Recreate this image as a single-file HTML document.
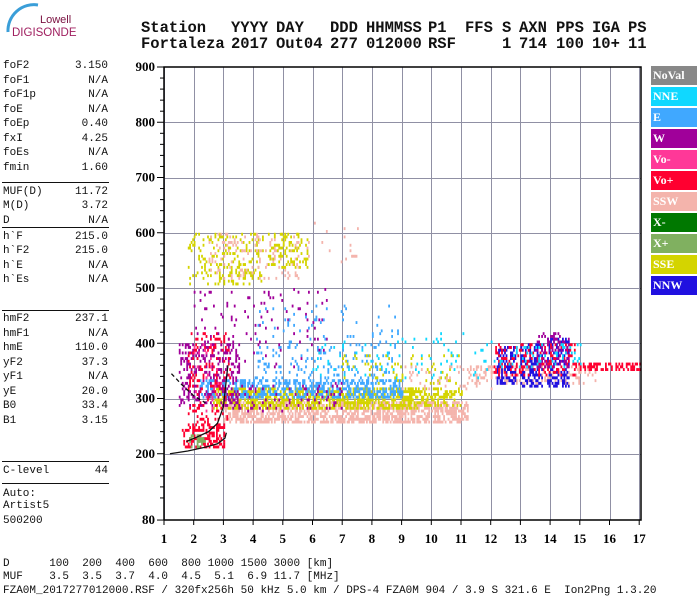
<!DOCTYPE html>
<html><head><meta charset="utf-8"><style>
body{margin:0;background:#fff;width:700px;height:600px;overflow:hidden;position:relative;font-family:"Liberation Mono",monospace}
.t{position:absolute;white-space:pre}
.hd{font:bold 15.5px "Liberation Mono",monospace;color:#111}
.lp{font:11px "Liberation Mono",monospace;color:#111}
.bt{font:11px "Liberation Mono",monospace;color:#111}
.sep{position:absolute;left:2px;width:107px;height:1px;background:#111}
.lg{position:absolute;left:651px;width:46px;height:19px;color:#fff;font:bold 12px "Liberation Serif",serif;line-height:19px;padding-left:2px;box-sizing:border-box}
.gv{position:absolute;top:67px;height:453px;width:1px;background:#9090a4}
.gh{position:absolute;left:164px;width:477px;height:1px;background:#9090a4}
</style></head><body>
<svg style="position:absolute;left:0;top:0" width="80" height="40"><path d="M8 32 A 26 26 0 0 1 38 5" stroke="#3a9ed8" stroke-width="3" fill="none"/><text x="40" y="23" font-family="Liberation Sans,sans-serif" font-size="11" fill="#7a1040">Lowell</text><text x="12" y="36" font-family="Liberation Sans,sans-serif" font-size="11.5" fill="#a02060">DIGISONDE</text></svg>
<div>
<div class="t hd" style="left:141px;top:19px">Station</div><div class="t hd" style="left:231px;top:19px">YYYY</div><div class="t hd" style="left:276px;top:19px">DAY</div><div class="t hd" style="left:330px;top:19px">DDD</div><div class="t hd" style="left:366px;top:19px">HHMMSS</div><div class="t hd" style="left:428px;top:19px">P1</div><div class="t hd" style="left:465px;top:19px">FFS</div><div class="t hd" style="left:502px;top:19px">S</div><div class="t hd" style="left:519px;top:19px">AXN</div><div class="t hd" style="left:556px;top:19px">PPS</div><div class="t hd" style="left:592px;top:19px">IGA</div><div class="t hd" style="left:628px;top:19px">PS</div>
<div class="t hd" style="left:141px;top:35px">Fortaleza</div><div class="t hd" style="left:231px;top:35px">2017</div><div class="t hd" style="left:276px;top:35px">Out04</div><div class="t hd" style="left:330px;top:35px">277</div><div class="t hd" style="left:366px;top:35px">012000</div><div class="t hd" style="left:428px;top:35px">RSF</div><div class="t hd" style="left:502px;top:35px">1</div><div class="t hd" style="left:519px;top:35px">714</div><div class="t hd" style="left:556px;top:35px">100</div><div class="t hd" style="left:592px;top:35px">10+</div><div class="t hd" style="left:628px;top:35px">11</div>
</div>
<div id="panel"></div>
<div id="grid"></div>
<div>
<div class="lg" style="top:66px;background:#888">NoVal</div>
<div class="lg" style="top:87px;background:#10d8ff">NNE</div>
<div class="lg" style="top:108px;background:#40a8ff">E</div>
<div class="lg" style="top:129px;background:#a0009a">W</div>
<div class="lg" style="top:150px;background:#ff3898">Vo-</div>
<div class="lg" style="top:171px;background:#ff0030">Vo+</div>
<div class="lg" style="top:192px;background:#f4b4ac">SSW</div>
<div class="lg" style="top:213px;background:#007800">X-</div>
<div class="lg" style="top:234px;background:#80b060">X+</div>
<div class="lg" style="top:255px;background:#d4d400">SSE</div>
<div class="lg" style="top:276px;background:#2010e0">NNW</div>
</div>
<div>
<div class="t bt" style="left:3px;top:558px">D      100  200  400  600  800 1000 1500 3000 [km]</div>
<div class="t bt" style="left:3px;top:571px">MUF    3.5  3.5  3.7  4.0  4.5  5.1  6.9 11.7 [MHz]</div>
<div class="t bt" style="left:3px;top:585px">FZA0M_2017277012000.RSF / 320fx256h 50 kHz 5.0 km / DPS-4 FZA0M 904 / 3.9 S 321.6 E  Ion2Png 1.3.20</div>
</div>
<svg id="chart" style="position:absolute;left:0;top:0" width="700" height="600"></svg>
<script>
const panelLabels=["foF2","foF1","foF1p","foE","foEp","fxI","foEs","fmin","MUF(D)","M(D)","D","h`F","h`F2","h`E","h`Es","hmF2","hmF1","hmE","yF2","yF1","yE","B0","B1","C-level","Auto:","Artist5","500200"];
const panelValues=["3.150","N/A","N/A","N/A","0.40","4.25","N/A","1.60","11.72","3.72","N/A","215.0","215.0","N/A","N/A","237.1","N/A","110.0","37.3","N/A","20.0","33.4","3.15","44","","",""];
const panelY=[67,82,96,111,125,140,154,169,193,207,222,238,252,267,281,320,335,349,364,378,393,407,422,472,495,507,522];
const sepY=[182,227,310,461,483];
(function(){const p=document.getElementById('panel');
panelLabels.forEach((l,i)=>{const a=document.createElement('div');a.className='t lp';a.style.left='3px';a.style.top=(panelY[i]-7)+'px';a.textContent=l;


p.appendChild(a);
if(panelValues[i]){const b=document.createElement('div');b.className='t lp';b.style.right=(700-108)+'px';b.style.top=(panelY[i]-7)+'px';b.textContent=panelValues[i];


p.appendChild(b);}});
sepY.forEach(y=>{const s=document.createElement('div');s.className='sep';s.style.top=y+'px';


p.appendChild(s);});})();

const xTicks=[1,2,3,4,5,6,7,8,9,10,11,12,13,14,15,16,17];
const yTicks=[900,800,700,600,500,400,300,200,80];
const colors={pink:"#f4b4ac",yellow:"#d4d400",blue:"#40a8ff",purple:"#a0009a",red:"#ff0030",navy:"#2010e0",cyan:"#10d8ff",green:"#80b060",magenta:"#ff3898"};
const clFLo=[3.0,11.2,2.6,9.0,2.2,4.0,1.5,1.6,1.8,1.8,2.5,4.5,5.8,12.2,13.0,13.9,12.1,13.5,12.0,14.8,2.0,6.0,1.8,2.0,3.0,4.0,7.0,9.0];
const clFHi=[11.2,15.5,9.5,11.0,9.0,8.8,3.5,3.0,3.2,4.3,5.5,5.8,7.5,12.8,13.7,14.6,14.8,14.6,15.0,17.0,6.5,12.0,2.4,3.0,7.0,9.0,11.0,12.0];
const clHLo=[262,330,285,292,305,340,290,215,260,510,520,540,550,330,325,325,345,360,360,355,360,340,215,280,280,400,330,320];
const clHHi=[295,360,320,320,335,400,400,255,420,600,600,600,620,395,400,410,400,420,400,365,500,420,235,400,330,470,380,360];
const clMode=["pink","pink","yellow","yellow","blue","blue","purple","red","red","yellow","pink","yellow","pink","navy","navy","navy","red","purple","cyan","red","purple","cyan","green","magenta","purple","blue","yellow","pink"];
const clDens=[0.6,0.25,0.55,0.4,0.45,0.1,0.25,0.5,0.15,0.18,0.12,0.25,0.05,0.5,0.45,0.45,0.25,0.25,0.1,0.5,0.04,0.04,0.3,0.07,0.08,0.04,0.06,0.1];
const lowF=[1.2,1.8,2.4,2.8,3.05,3.1];
const lowH=[200,205,212,218,228,238];
const profF=[1.75,2.1,2.5,2.8,3.0,3.15];
const profH=[222,230,240,255,285,360];
const dashF=[1.25,1.6,2.0,2.4];
const dashH=[345,325,305,292];

const svg=document.getElementById('chart');const NS="http://www.w3.org/2000/svg";
const X0=164,DX=29.7,Y0=67,KY=0.5525;
const xs=f=>X0+(f-1)*DX, ys=h=>Y0+(900-h)*KY;
function mk(t,a){const e=document.createElementNS(NS,t);for(const k in a)e.setAttribute(k,a[k]);svg.appendChild(e);return e;}
const grid=document.getElementById('grid');
xTicks.forEach(f=>{const d=document.createElement('div');d.className='gv';d.style.left=Math.round(xs(f))+'px';


grid.appendChild(d);});
yTicks.forEach(h=>{if(h>80&&h<900){const d=document.createElement('div');d.className='gh';d.style.top=Math.round(ys(h))+'px';


grid.appendChild(d);}});
xTicks.forEach(f=>{mk('line',{x1:xs(f),x2:xs(f),y1:520,y2:525,stroke:'#000'});
const l=mk('text',{x:xs(f),y:543,'text-anchor':'middle','font-family':'Liberation Serif,serif','font-weight':'bold','font-size':13});l.textContent=f;

});
yTicks.forEach(h=>{mk('line',{x1:X0-7,x2:X0,y1:ys(h),y2:ys(h),stroke:'#000'});
const l=mk('text',{x:X0-9,y:ys(h)+4,'text-anchor':'end','font-family':'Liberation Serif,serif','font-weight':'bold','font-size':13});l.textContent=h;

});
for(let h=100;h<900;h+=20){if(h%100)mk('line',{x1:X0-4,x2:X0,y1:ys(h),y2:ys(h),stroke:'#000'});}
const echoes=document.createElementNS(NS,'g');svg.appendChild(echoes);


function hsh(i,j,k){let v=(i*73856093)^(j*19349663)^(k*83492791);v=(v^(v>>>13))*1274126177;v=v^(v>>>16);return ((v>>>0)%1000)/1000;}
for(let c=0;c<clFLo.length;c++){
 const i0=Math.round(clFLo[c]/0.05),i1=Math.round(clFHi[c]/0.05),j0=Math.round(clHLo[c]/5),j1=Math.round(clHHi[c]/5);
 for(let i=i0;i<=i1;i++)for(let j=j0;j<=j1;j++){
  if(hsh(i,j,c+1)<clDens[c]){const r=document.createElementNS(NS,'rect');
   r.setAttribute('x',xs(i*0.05).toFixed(1));r.setAttribute('y',ys(j*5).toFixed(1));r.setAttribute('width',1.8);r.setAttribute('height',2.9);r.setAttribute('fill',colors[clMode[c]]);echoes.appendChild(r);}
 }}
const fr=mk('path',{d:`M${X0} 520V${Y0}H641V520H${X0}`,stroke:'#000',fill:'none','stroke-width':1.5});


function pl(F,H,extra,name){const p=mk('polyline',Object.assign({points:F.map((f,i)=>xs(f)+','+ys(H[i])).join(' '),fill:'none',stroke:'#111','stroke-width':1.3},extra));

}
pl(lowF,lowH,{},'lower-trace-curve');
pl(profF,profH,{},'profile-curve');
pl(dashF,dashH,{'stroke-dasharray':'4 3'},'dashed-trace');
</script>
</body></html>
